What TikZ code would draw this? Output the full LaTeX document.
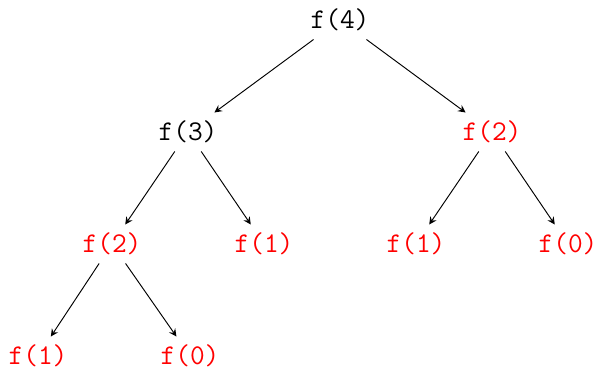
\documentclass[tikz,border=0pt]{standalone}
\usepackage{tikz}
\usetikzlibrary{arrows.meta,positioning}
\definecolor{dup}{HTML}{FF0000}
\tikzset{every node/.style={font=\ttfamily\fontsize{12}{14}\selectfont},
 call/.style={inner sep=3.33pt},
 repeated/.style={call,text=dup},
 link/.style={-stealth,draw=black,line width=.4pt}}
\begin{document}
\begin{tikzpicture}[x=0.4202pt,y=-0.4202pt]

\path[use as bounding box] (0,0) rectangle (597,371);
% first call and its two children
\node[call] (f4) at (340,20) {f(4)};
\node[call] (f3) at (188,132) {f(3)};
\node[repeated] (f2r) at (492,132) {f(2)};
% third level
\node[repeated] (f2l) at (112,244) {f(2)};
\node[repeated] (f1a) at (264,244) {f(1)};
\node[repeated] (f1b) at (416,244) {f(1)};
\node[repeated] (f0a) at (568,244) {f(0)};
% last level
\node[repeated] (f1c) at (38,356) {f(1)};
\node[repeated] (f0b) at (190,356) {f(0)};

\draw[link] (f4)--(f3);
\draw[link] (f4)--(f2r);
\draw[link] (f3)--(f2l);
\draw[link] (f3)--(f1a);
\draw[link] (f2r)--(f1b);
\draw[link] (f2r)--(f0a);
\draw[link] (f2l)--(f1c);
\draw[link] (f2l)--(f0b);

\end{tikzpicture}
\end{document}
